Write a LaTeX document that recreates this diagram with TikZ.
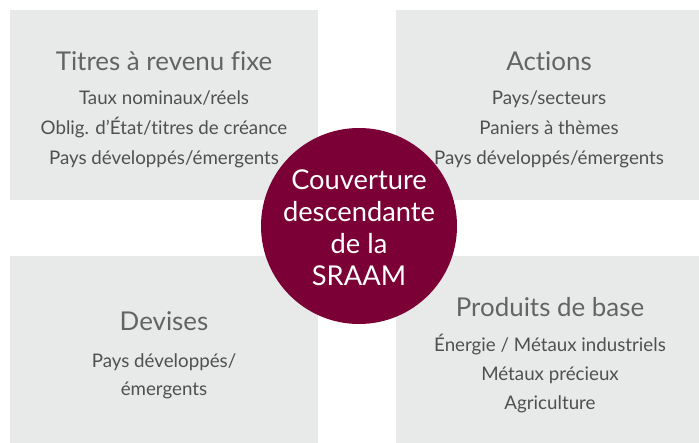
\documentclass[tikz,border=0pt]{standalone}
\usepackage{fontspec}
\setmainfont{Lato}[Ligatures={TeX,NoCommon}]
\usepackage{tikz}
\usetikzlibrary{positioning}
\definecolor{panelgrey}{RGB}{232, 233, 233}
\definecolor{wine}{RGB}{122, 0, 54}
\definecolor{headgrey}{RGB}{100, 100, 100}
\definecolor{itemgrey}{RGB}{80, 80, 80}

\tikzset{
  panel/.style={fill=panelgrey, draw=none, inner sep=0pt},
  head/.style={anchor=base, text=headgrey, font=\fontsize{26}{30}\selectfont},
  item/.style={anchor=base, text=itemgrey, font=\fontsize{18.8}{22}\selectfont},
  hub/.style={circle, fill=wine, minimum size=196bp, inner sep=0pt},
  hubline/.style={anchor=base, text=white, font=\fontsize{27.4}{31}\selectfont}
}

\begin{document}
\begin{tikzpicture}[x=1bp,y=-1bp]
    \useasboundingbox (0,0) rectangle (699,443);

    % Four asset-class panels
    \fill[panel] (10,10) rectangle (318,200);
    \fill[panel] (396,10) rectangle (699,200);
    \fill[panel] (10,256) rectangle (318,443);
    \fill[panel] (396,256) rectangle (699,443);

    % Fixed income
    \node[head] (fixed) at (164,71) {Titres à revenu fixe};
    \foreach \txt [count=\i] in {Taux nominaux/réels, Oblig. d’État/titres de créance, Pays développés/émergents}
        \node[item] (fixed-\i) at (164,{105+30*(\i-1)}) {\txt};

    % Equities
    \node[head] (equity) at (549,71) {Actions};
    \foreach \txt [count=\i] in {Pays/secteurs, Paniers à thèmes, Pays développés/émergents}
        \node[item] (equity-\i) at (549,{105+30*(\i-1)}) {\txt};

    % Currencies
    \node[head] (fx) at (164,331) {Devises};
    \foreach \txt [count=\i] in {Pays développés/, émergents}
        \node[item] (fx-\i) at (164,{367+28*(\i-1)}) {\txt};

    % Commodities
    \node[head] (commod) at (550,317) {Produits de base};
    \foreach \txt [count=\i] in {Énergie / Métaux industriels, Métaux précieux, Agriculture}
        \node[item] (commod-\i) at (550,{351+29*(\i-1)}) {\txt};

    % Central disc
    \node[hub] (sraam) at (359,226) {};
    \foreach \txt [count=\i] in {Couverture, descendante, de la, SRAAM}
        \node[hubline] (sraam-\i) at (359,{190+32*(\i-1)}) {\txt};
\end{tikzpicture}
\end{document}
